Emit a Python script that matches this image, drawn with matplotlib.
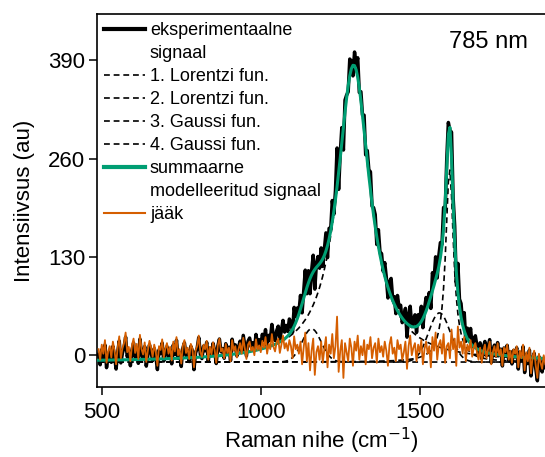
import numpy as np
import matplotlib.pyplot as plt

plt.rcParams['font.family'] = ['Liberation Sans', 'DejaVu Sans']

# Raman shift grid, cm-1
shift = np.arange(490, 1896, 5)

# fitted bands (centre, height above baseline, width)
lor_centres = [1292, 1594]
lor_heights = [392, 255]
lor_hwhm = [62, 15]
gau_centres = [1160, 1562]
gau_heights = [44, 65]
gau_sigma = [30, 34]
baseline = -9

# fit residual (measured - model)
residual = [
    8, -6, 14, 2, 20, -10, 5, 12, -3, 18, 6, -12, 10, 25, -4, 9, 16, 30, 4, 11,
    -8, 13, 22, 3, 15, -5, 27, 8, 1, 17, -9, 6, 19, 10, -2, 14, 4, -14, 12, 7,
    21, -3, 9, 16, 2, 11, -7, 18, 5, 24, 0, 8, -11, 13, 20, 3, 10, -5, 15, 9,
    -16, 6, 12, 26, 4, -2, 14, 8, 19, -6, 11, 1, 17, 7, -10, 13, 22, 5, 9, -4,
    15, 3, 10, -8, 20, 6, 12, -3, 8, 16, 2, 23, 9, -5, 14, 18, 6, 11, 0, 21,
    7, 13, 4, 19, 10, 24, 2, 15, 8, 28, 11, 5, 17, 22, 3, 14, 26, 9, 16, 6,
    20, 12, -4, 25, 8, 14, 2, 18, -12, 10, 30, -8, 16, -20, 6, 22, -26, 4, 12, -6,
    18, -10, 8, 24, -16, 14, 2, 28, -4, 12, 51, -22, 6, 20, -30, 16, 4, -8, 22, 10,
    -14, 18, 6, 26, -6, 12, 0, 20, -12, 14, 8, 24, -4, 10, 16, -10, 22, 4, 12, -2,
    18, 6, -14, 14, 24, 2, 10, -8, 20, 8, 14, -6, 4, 18, -18, 12, 26, 0, 10, 16,
    -8, 14, 4, 20, -12, 8, 18, 2, 12, -16, 24, 6, 30, -6, 14, 20, 2, 28, -10, 12,
    16, -4, 34, 8, 22, -14, 38, 10, 18, 2, 24, -8, 14, 6, 20, -2, 10, 16, 4, -6,
    10, -10, 6, 14, -4, 8, 18, -12, 4, 12, -2, 16, 0, 8, -14, 10, 4, 14, -6, 6,
    -10, 8, 2, 12, -16, 6, -4, 14, -20, 4, -8, 10, -24, -2, 6, -14, -30, 2, -10, -18,
    0, -12,
]

legend_labels = ["eksperimentaalne\nsignaal", "1. Lorentzi fun.", "2. Lorentzi fun.",
                 "3. Gaussi fun.", "4. Gaussi fun.",
                 "summaarne\nmodelleeritud signaal", "jääk"]

GREEN = '#009E73'
ORANGE = '#D55E00'
DASH = (0, (3.5, 2.3))

lor = [h / (1 + ((shift - c) / w) ** 2) for c, h, w in zip(lor_centres, lor_heights, lor_hwhm)]
gau = [h * np.exp(-0.5 * ((shift - c) / s) ** 2) for c, h, s in zip(gau_centres, gau_heights, gau_sigma)]
bands = lor + gau
model = baseline + np.sum(bands, axis=0)
measured = model + np.array(residual)

fig = plt.figure(figsize=(5.45, 4.57), dpi=100)
# axes box in pixels: left 97, right 545, top 14, bottom 387
W, H = 545, 457
ax = fig.add_axes([97 / W, (H - 387) / H, (545 - 97) / W, (387 - 14) / H])

ax.plot(shift, measured, color='black', lw=2.5, zorder=2)
for b in bands:
    ax.plot(shift, baseline + b, color='black', lw=1.2, ls=DASH, zorder=3)
ax.plot(shift, model, color=GREEN, lw=2.2, zorder=4)
ax.plot(shift, residual, color=ORANGE, lw=1.3, zorder=5)

ax.set_xlim(485, 1894)
ax.set_ylim(-42, 451)
ax.set_xticks([500, 1000, 1500])
ax.set_yticks([0, 130, 260, 390])
ax.spines['right'].set_visible(False)
for s in ax.spines.values():
    s.set_linewidth(1.2)
ax.tick_params(direction='out', length=5.5, width=1.1, labelsize=16, pad=3)
ax.tick_params(axis='x', pad=5)
ax.set_xlabel('Raman nihe (cm$^{-1}$)', fontsize=16, labelpad=2)
ax.set_ylabel('Intensiivsus (au)', fontsize=16, labelpad=9)

ax.text((488 - 97) / 448, (387 - 42) / 373, '785 nm', transform=ax.transAxes,
        fontsize=17, ha='center', va='center')

# hand-built legend, handle sits on the first line of each entry
styles = [dict(color='black', lw=3), dict(color='black', lw=1.2, ls=DASH),
          dict(color='black', lw=1.2, ls=DASH), dict(color='black', lw=1.2, ls=DASH),
          dict(color='black', lw=1.2, ls=DASH), dict(color=GREEN, lw=3),
          dict(color=ORANGE, lw=1.5)]
row = 0
for label, st in zip(legend_labels, styles):
    for j, line in enumerate(label.split('\n')):
        py = 29 + 23 * row
        fy = (387 - py) / 373
        if j == 0:
            ax.plot([(104 - 97) / 448, (145 - 97) / 448], [fy, fy], transform=ax.transAxes,
                    clip_on=False, zorder=6, **st)
        ax.text((150 - 97) / 448, (387 - py - 6) / 373, line, transform=ax.transAxes,
                fontsize=13, ha='left', va='baseline', zorder=6)
        row += 1

fig.savefig('out.png', dpi=100)
